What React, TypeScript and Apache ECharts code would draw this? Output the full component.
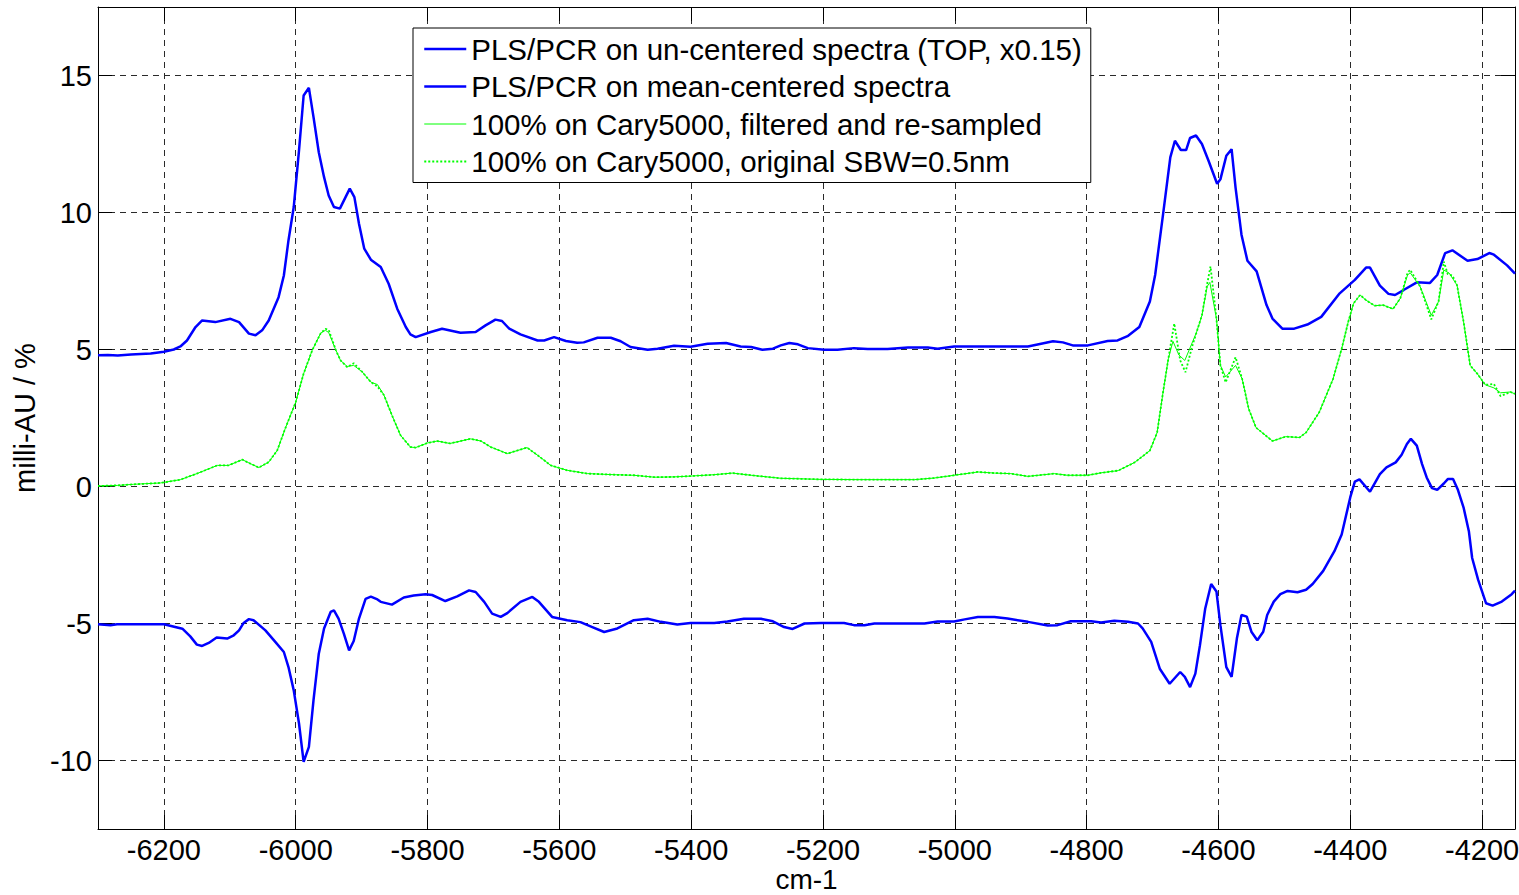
import React, { useEffect, useRef } from "react";
import * as echarts from "echarts";

// ---- Data ----
const seriesNames = [
  "PLS/PCR on un-centered spectra (TOP, x0.15)",
  "PLS/PCR on mean-centered spectra",
  "100% on Cary5000, filtered and re-sampled",
  "100% on Cary5000, original SBW=0.5nm",
];

const unCenteredX = [-6300,-6285,-6270,-6250,-6220,-6200,-6185,-6175,-6165,-6152,-6142,-6122,-6099,-6086,-6071,-6061,-6051,-6041,-6026,-6018,-6011,-6003,-5995,-5988,-5980,-5973,-5965,-5957,-5950,-5942,-5933,-5918,-5911,-5904,-5896,-5886,-5871,-5859,-5846,-5833,-5826,-5818,-5795,-5778,-5750,-5727,-5712,-5697,-5687,-5676,-5659,-5633,-5623,-5608,-5590,-5573,-5563,-5542,-5522,-5507,-5492,-5466,-5451,-5426,-5401,-5375,-5347,-5325,-5309,-5292,-5276,-5264,-5251,-5238,-5223,-5198,-5178,-5153,-5132,-5102,-5071,-5041,-5026,-5001,-4940,-4889,-4869,-4851,-4836,-4821,-4798,-4768,-4753,-4737,-4720,-4704,-4696,-4684,-4673,-4666,-4657,-4649,-4643,-4634,-4625,-4615,-4602,-4597,-4588,-4580,-4574,-4565,-4556,-4542,-4527,-4518,-4503,-4485,-4465,-4444,-4416,-4393,-4376,-4370,-4355,-4342,-4332,-4319,-4299,-4279,-4268,-4256,-4245,-4222,-4207,-4189,-4182,-4162,-4150];
const unCenteredY = [4.79,4.8,4.78,4.82,4.85,4.92,5.0,5.11,5.33,5.82,6.06,6.0,6.12,6.0,5.58,5.52,5.7,6.06,6.91,7.7,8.98,10.2,12.27,14.27,14.55,13.48,12.2,11.29,10.62,10.2,10.14,10.87,10.56,9.59,8.68,8.28,8.01,7.4,6.49,5.82,5.55,5.45,5.64,5.76,5.61,5.64,5.88,6.09,6.04,5.76,5.55,5.33,5.33,5.45,5.31,5.25,5.26,5.43,5.43,5.3,5.09,4.99,5.03,5.14,5.1,5.21,5.24,5.11,5.09,4.99,5.03,5.15,5.24,5.19,5.05,4.99,4.99,5.05,5.02,5.02,5.07,5.07,5.03,5.11,5.11,5.11,5.21,5.3,5.26,5.15,5.15,5.31,5.33,5.5,5.82,6.75,7.72,9.93,12.01,12.62,12.28,12.28,12.72,12.81,12.5,11.89,11.05,11.21,12.07,12.31,10.91,9.19,8.24,7.85,6.62,6.13,5.76,5.76,5.91,6.19,7.05,7.54,7.99,7.99,7.33,7.03,6.99,7.17,7.45,7.43,7.72,8.52,8.62,8.24,8.3,8.52,8.46,8.07,7.77];

const meanCenteredX = [-6300,-6281,-6271,-6200,-6172,-6160,-6150,-6142,-6132,-6120,-6104,-6094,-6086,-6079,-6071,-6064,-6046,-6031,-6018,-6011,-6003,-5995,-5988,-5980,-5973,-5965,-5957,-5947,-5942,-5935,-5927,-5919,-5912,-5904,-5894,-5886,-5876,-5871,-5854,-5836,-5821,-5803,-5793,-5773,-5755,-5737,-5727,-5714,-5702,-5689,-5679,-5659,-5641,-5631,-5611,-5588,-5568,-5550,-5532,-5512,-5487,-5466,-5446,-5421,-5401,-5365,-5345,-5320,-5294,-5276,-5259,-5246,-5228,-5203,-5168,-5153,-5137,-5122,-5046,-5026,-5001,-4985,-4965,-4940,-4920,-4889,-4859,-4844,-4824,-4793,-4778,-4758,-4737,-4722,-4715,-4702,-4689,-4674,-4658,-4651,-4643,-4635,-4628,-4620,-4611,-4603,-4597,-4588,-4580,-4572,-4565,-4557,-4550,-4541,-4532,-4526,-4516,-4506,-4495,-4480,-4467,-4457,-4441,-4424,-4413,-4400,-4393,-4386,-4370,-4355,-4345,-4331,-4322,-4314,-4308,-4299,-4291,-4284,-4276,-4268,-4258,-4252,-4244,-4237,-4228,-4220,-4215,-4206,-4194,-4184,-4170,-4155,-4150];
const meanCenteredY = [-5.03,-5.06,-5.03,-5.03,-5.19,-5.47,-5.77,-5.82,-5.71,-5.51,-5.55,-5.43,-5.25,-4.98,-4.84,-4.88,-5.25,-5.67,-6.04,-6.59,-7.44,-8.65,-10.05,-9.5,-7.8,-6.1,-5.18,-4.58,-4.52,-4.82,-5.37,-5.98,-5.64,-4.82,-4.1,-4.02,-4.12,-4.21,-4.31,-4.05,-3.98,-3.93,-3.96,-4.18,-4.01,-3.79,-3.85,-4.21,-4.64,-4.76,-4.62,-4.21,-4.03,-4.21,-4.76,-4.88,-4.95,-5.13,-5.31,-5.18,-4.88,-4.83,-4.94,-5.04,-4.98,-4.98,-4.93,-4.83,-4.83,-4.92,-5.13,-5.2,-5.0,-4.98,-4.98,-5.06,-5.06,-5.0,-5.0,-4.93,-4.93,-4.85,-4.76,-4.76,-4.82,-4.94,-5.07,-5.06,-4.92,-4.92,-4.96,-4.9,-4.94,-5.0,-5.18,-5.67,-6.65,-7.2,-6.77,-6.95,-7.32,-6.83,-5.79,-4.45,-3.56,-3.83,-5.06,-6.59,-6.95,-5.55,-4.69,-4.75,-5.3,-5.61,-5.3,-4.69,-4.2,-3.93,-3.81,-3.86,-3.77,-3.56,-3.08,-2.36,-1.75,-0.4,0.18,0.26,-0.19,0.45,0.7,0.88,1.16,1.55,1.74,1.49,0.82,0.33,-0.06,-0.12,0.11,0.27,0.27,-0.1,-0.77,-1.63,-2.61,-3.4,-4.26,-4.35,-4.2,-3.93,-3.8];

const filteredX = [-6300,-6270,-6246,-6205,-6175,-6150,-6119,-6102,-6081,-6071,-6056,-6041,-6028,-6016,-6000,-5988,-5975,-5962,-5955,-5950,-5939,-5932,-5922,-5912,-5899,-5886,-5876,-5866,-5854,-5841,-5826,-5818,-5800,-5785,-5766,-5735,-5719,-5704,-5679,-5649,-5633,-5613,-5588,-5557,-5517,-5487,-5456,-5426,-5401,-5365,-5337,-5309,-5264,-5203,-5142,-5061,-5031,-5001,-4965,-4940,-4915,-4889,-4849,-4829,-4798,-4778,-4752,-4727,-4704,-4693,-4684,-4676,-4669,-4660,-4651,-4633,-4625,-4617,-4613,-4603,-4597,-4589,-4574,-4564,-4554,-4543,-4518,-4498,-4477,-4467,-4447,-4426,-4413,-4403,-4395,-4385,-4376,-4363,-4350,-4335,-4324,-4313,-4309,-4294,-4277,-4266,-4258,-4250,-4238,-4228,-4218,-4207,-4195,-4182,-4172,-4157,-4150];
const filteredY = [0.02,0.04,0.08,0.13,0.25,0.47,0.77,0.77,0.98,0.86,0.69,0.89,1.32,2.11,3.08,4.12,4.97,5.6,5.7,5.62,4.97,4.6,4.38,4.42,4.18,3.81,3.72,3.33,2.6,1.87,1.44,1.42,1.59,1.66,1.57,1.74,1.66,1.44,1.2,1.42,1.14,0.77,0.59,0.47,0.43,0.41,0.34,0.35,0.38,0.43,0.49,0.41,0.3,0.26,0.25,0.25,0.31,0.41,0.53,0.49,0.47,0.37,0.47,0.41,0.41,0.5,0.58,0.88,1.31,1.97,3.44,4.66,5.3,4.8,4.6,5.64,6.25,7.3,7.45,6.13,4.42,4.0,4.42,3.93,2.83,2.15,1.66,1.82,1.79,1.97,2.71,3.93,5.03,6.01,6.68,6.99,6.8,6.6,6.62,6.48,6.87,7.72,7.8,7.3,6.25,6.75,7.9,7.79,7.35,6.01,4.42,4.11,3.71,3.6,3.42,3.45,3.38];

const originalX = [-6300,-6270,-6246,-6205,-6175,-6150,-6119,-6102,-6081,-6071,-6056,-6041,-6028,-6016,-6000,-5988,-5975,-5962,-5955,-5950,-5939,-5932,-5922,-5912,-5899,-5886,-5876,-5866,-5854,-5841,-5826,-5818,-5800,-5785,-5766,-5735,-5719,-5704,-5679,-5649,-5633,-5613,-5588,-5557,-5517,-5487,-5456,-5426,-5401,-5365,-5337,-5309,-5264,-5203,-5142,-5061,-5031,-5001,-4965,-4940,-4915,-4889,-4849,-4829,-4798,-4778,-4752,-4727,-4704,-4693,-4684,-4676,-4667,-4658,-4650,-4640,-4633,-4625,-4617,-4612,-4603,-4597,-4589,-4574,-4564,-4554,-4543,-4518,-4498,-4477,-4467,-4447,-4426,-4413,-4403,-4395,-4385,-4376,-4363,-4350,-4335,-4324,-4313,-4309,-4294,-4277,-4266,-4258,-4252,-4245,-4238,-4228,-4218,-4207,-4195,-4182,-4172,-4157,-4150];
const originalY = [0.02,0.04,0.08,0.13,0.25,0.47,0.77,0.77,0.98,0.86,0.69,0.89,1.32,2.11,3.08,4.12,4.97,5.6,5.75,5.72,4.97,4.6,4.36,4.5,4.18,3.81,3.65,3.33,2.6,1.87,1.44,1.42,1.59,1.66,1.57,1.74,1.66,1.44,1.2,1.42,1.14,0.77,0.59,0.47,0.43,0.41,0.34,0.35,0.38,0.43,0.49,0.41,0.3,0.26,0.25,0.25,0.31,0.41,0.53,0.49,0.47,0.37,0.47,0.41,0.41,0.5,0.58,0.88,1.31,1.97,3.44,4.66,5.95,4.6,4.17,5.1,5.64,6.25,7.4,8.03,6.13,4.42,3.8,4.72,3.93,2.83,2.15,1.66,1.82,1.79,1.97,2.71,3.93,5.03,6.01,6.68,6.99,6.8,6.6,6.62,6.48,6.87,7.8,7.91,7.3,6.1,6.75,8.21,7.75,7.7,7.35,6.01,4.42,4.11,3.71,3.74,3.3,3.45,3.38];

const fontFamily = "'Liberation Sans', Arial, Helvetica, sans-serif";

function zip(xs: number[], ys: number[]) {
  return xs.map((x, i) => [x, ys[i]]);
}

export default function App() {
  const ref = useRef<HTMLDivElement>(null);

  useEffect(() => {
    if (!ref.current) return;
    const chart = echarts.init(ref.current, undefined, { renderer: "svg" });

    const axisLine = { show: true, onZero: false, lineStyle: { color: "#000", width: 1 } };
    const axisTick = { show: true, inside: true, length: 14, lineStyle: { color: "#000", width: 1 } };
    const splitLine = { show: true, lineStyle: { color: "#2a2a2a", type: [6, 5], width: 1 } };
    const labelStyle = { color: "#000", fontSize: 29, fontFamily };

    const option: any = {
      animation: false,
      backgroundColor: "#fff",
      grid: {
        left: 98,
        right: 4,
        top: 7,
        bottom: 66,
        containLabel: false,
        outerBoundsMode: "none",
      },
      legend: {
        orient: "vertical",
        left: 413,
        top: 28,
        padding: [6, 9, 6, 10],
        itemWidth: 42,
        itemHeight: 14,
        itemGap: 7.5,
        backgroundColor: "#fff",
        borderColor: "#000",
        borderWidth: 1,
        borderRadius: 0,
        selectedMode: false,
        itemStyle: { opacity: 0 },
        lineStyle: { width: "inherit" },
        textStyle: { fontSize: 29.5, fontFamily, color: "#000", lineHeight: 30 },
        data: seriesNames,
      },
      xAxis: [
        {
          type: "value",
          min: -6300,
          max: -4150,
          splitNumber: 10,
          position: "bottom",
          axisLine,
          axisTick,
          splitLine,
          axisLabel: {
            ...labelStyle,
            margin: 6,
            showMinLabel: false,
            showMaxLabel: false,
            formatter: (v: number) => String(v),
          },
          name: "cm-1",
          nameLocation: "middle",
          nameGap: 36,
          nameMoveOverlap: false,
          nameTextStyle: { ...labelStyle, fontSize: 28, lineHeight: 28 },
        },
        {
          type: "value",
          min: -6300,
          max: -4150,
          splitNumber: 10,
          position: "top",
          axisLine,
          axisTick,
          splitLine: { show: false },
          axisLabel: { show: false },
        },
      ],
      yAxis: [
        {
          type: "value",
          min: -12.5,
          max: 17.5,
          splitNumber: 6,
          position: "left",
          axisLine,
          axisTick,
          splitLine,
          axisLabel: {
            ...labelStyle,
            margin: 6,
            showMinLabel: false,
            showMaxLabel: false,
            formatter: (v: number) => String(v),
          },
          name: "milli-AU / %",
          nameLocation: "middle",
          nameGap: 56,
          nameRotate: 90,
          nameTextStyle: { ...labelStyle },
        },
        {
          type: "value",
          min: -12.5,
          max: 17.5,
          splitNumber: 6,
          position: "right",
          axisLine,
          axisTick,
          splitLine: { show: false },
          axisLabel: { show: false },
        },
      ],
      series: [
        {
          name: seriesNames[0],
          type: "line",
          data: zip(unCenteredX, unCenteredY),
          symbol: "none",
          showSymbol: false,
          silent: true,
          lineStyle: { color: "#0000ff", width: 2.5 },
          itemStyle: { color: "#0000ff" },
        },
        {
          name: seriesNames[1],
          type: "line",
          data: zip(meanCenteredX, meanCenteredY),
          symbol: "none",
          showSymbol: false,
          silent: true,
          lineStyle: { color: "#0000ff", width: 2.5 },
          itemStyle: { color: "#0000ff" },
        },
        {
          name: seriesNames[2],
          type: "line",
          data: zip(filteredX, filteredY),
          symbol: "none",
          showSymbol: false,
          silent: true,
          lineStyle: { color: "#00ff00", width: 1 },
          itemStyle: { color: "#00ff00" },
        },
        {
          name: seriesNames[3],
          type: "line",
          data: zip(originalX, originalY),
          symbol: "none",
          showSymbol: false,
          silent: true,
          lineStyle: { color: "#00ff00", width: 1.8, type: [2, 2] },
          itemStyle: { color: "#00ff00" },
        },
      ],
    };

    chart.setOption(option);
    return () => {
      chart.dispose();
    };
  }, []);

  return (
    <div
      ref={ref}
      style={{ position: "fixed", left: 0, top: 0, width: 1519, height: 895, background: "#fff" }}
    />
  );
}
